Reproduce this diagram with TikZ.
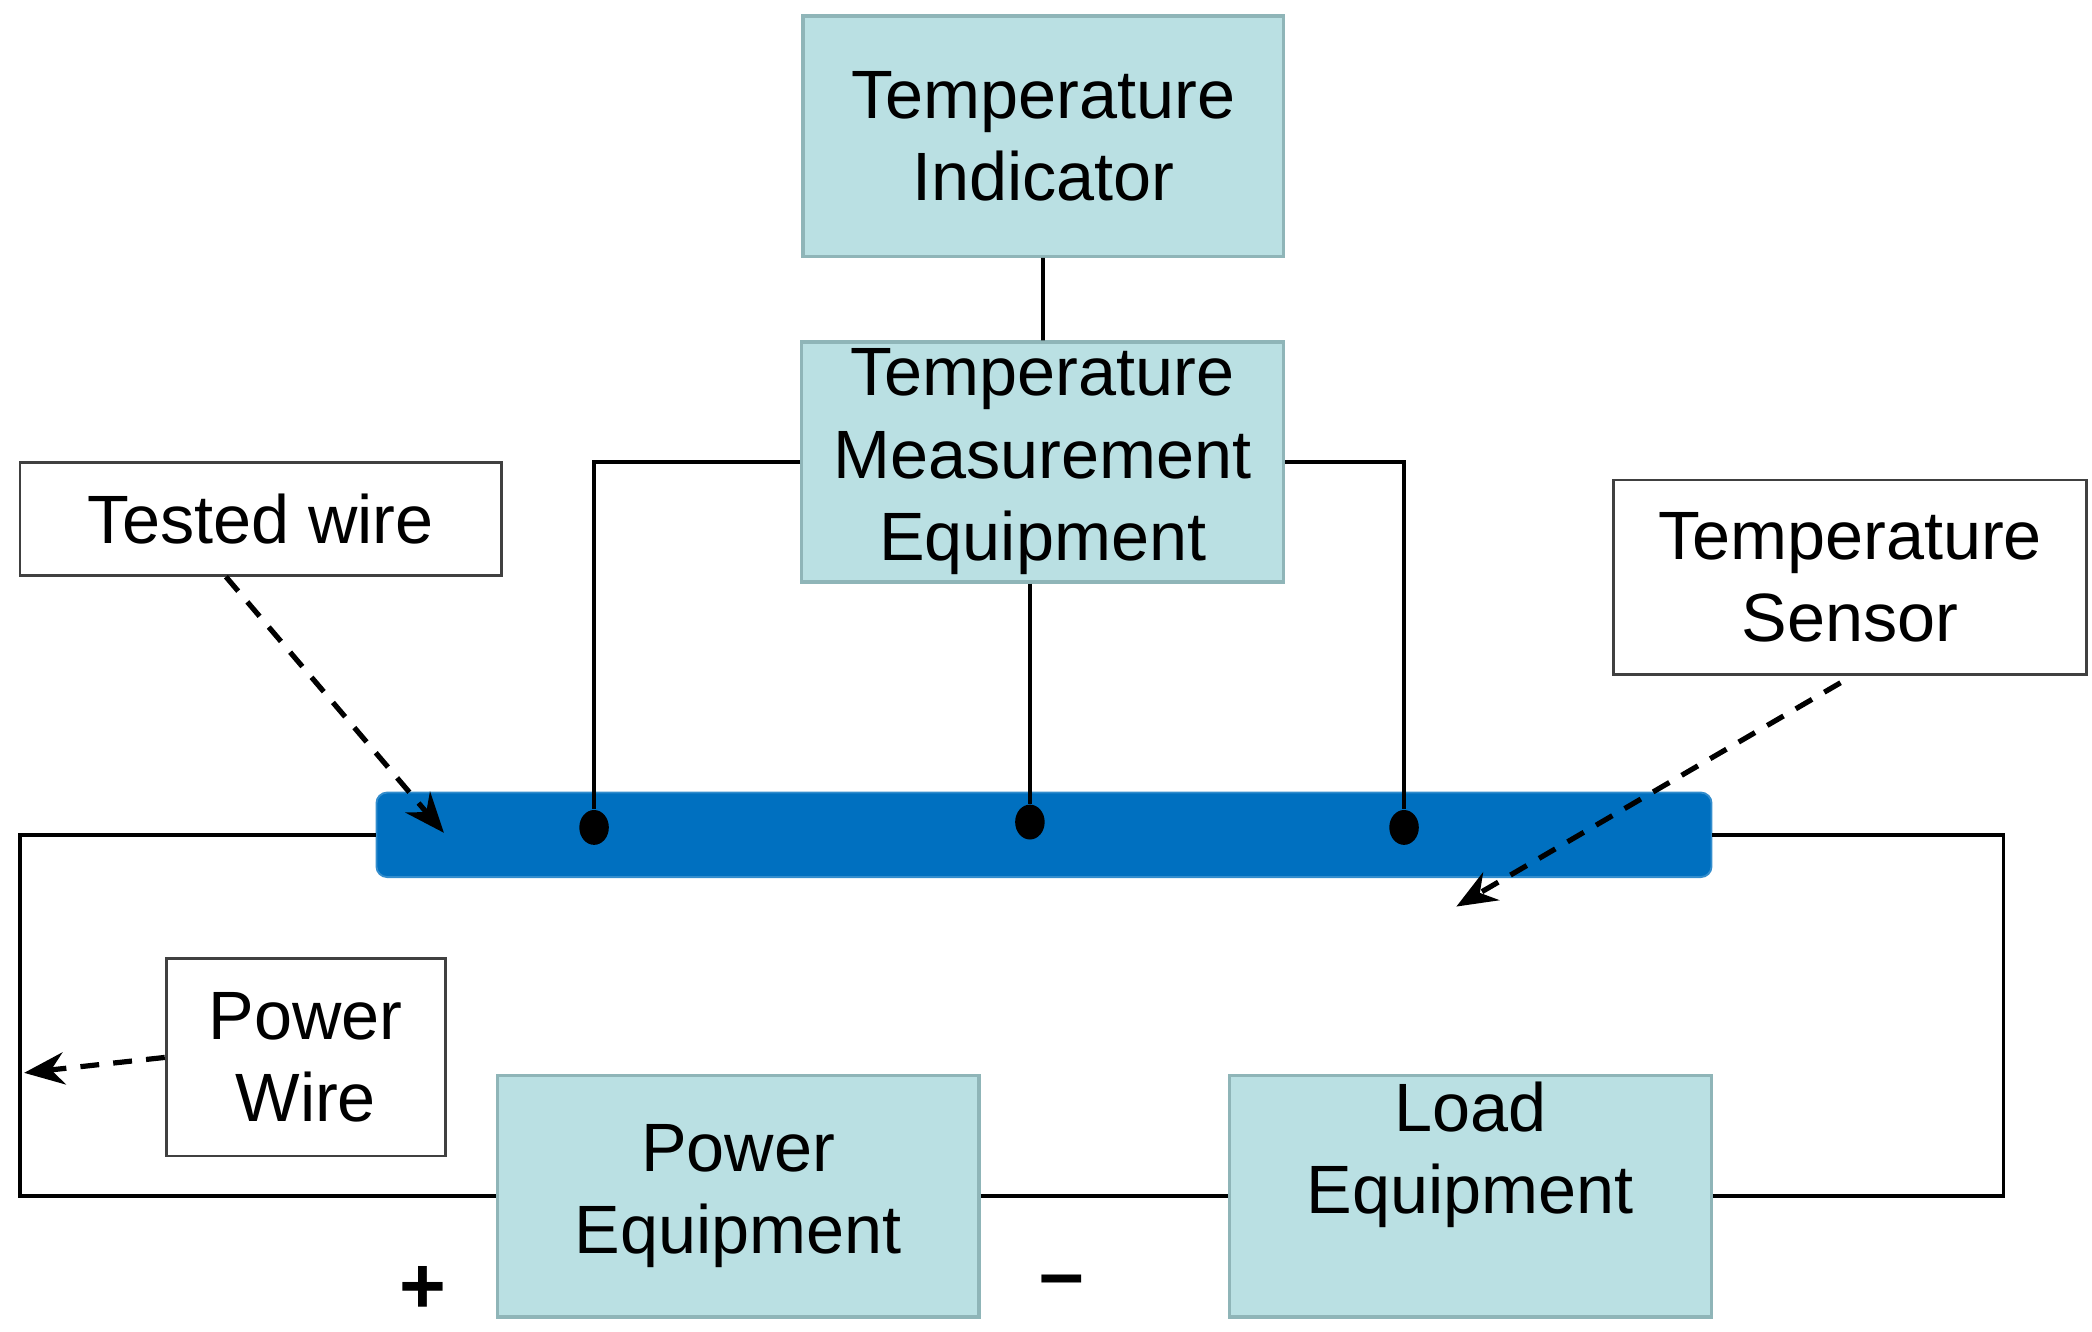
\documentclass[tikz,border=0pt]{standalone}
\usepackage{fontspec}
\setmainfont{Liberation Sans}
\usetikzlibrary{arrows.meta,shapes.geometric}
\definecolor{boxfill}{RGB}{186,224,227}
\definecolor{boxline}{RGB}{143,181,184}
\definecolor{barblue}{RGB}{0,112,192}
\begin{document}
\begin{tikzpicture}[x=0.01cm,y=-0.01cm,
    every node/.style={font=\fontsize{14.5}{17.5}\selectfont,align=center,inner sep=0pt},
    eqbox/.style={draw=boxline,fill=boxfill,line width=0.7pt},
    notebox/.style={draw=black!75,fill=white,line width=0.6pt},
    dot/.style={ellipse,fill=black,minimum width=0.22cm,minimum height=0.26cm},
    wire/.style={line width=0.8pt},
    pointer/.style={line width=1.1pt,dash pattern=on 4pt off 3pt,-{Stealth[length=3mm,width=2.4mm]}}]
  \useasboundingbox (0,0) rectangle (1560,993);
  \node[eqbox,minimum width=3.58cm,minimum height=1.79cm] (ind) at (778,101.5) {Temperature\\Indicator};
  \node[eqbox,minimum width=3.59cm,minimum height=1.79cm] (tme) at (777.5,344.5) {Temperature\\Measurement\\Equipment};
  \node[notebox,minimum width=3.59cm,minimum height=0.84cm] (tw) at (194.5,387) {Tested wire};
  \node[notebox,minimum width=3.53cm,minimum height=1.45cm] (ts) at (1379.5,430.5) {Temperature\\Sensor};
  \node[notebox,minimum width=2.08cm,minimum height=1.47cm] (pw) at (228,788.5) {Power\\Wire};
  \node[eqbox,minimum width=3.59cm,minimum height=1.80cm] (pwr) at (550.5,892) {Power\\Equipment};
  \node[eqbox,minimum width=3.59cm,minimum height=1.80cm,
    label={[align=center,yshift=0.31cm]center:Load\\Equipment}] (load) at (1096.5,892) {};
  \node[fill=barblue,draw=barblue!80!white,rounded corners=0.08cm,
    minimum width=9.95cm,minimum height=0.63cm] (bar) at (778.5,622.5) {};
  \node[dot] (d1) at (443,617) {};
  \node[dot] (d2) at (768,613) {};
  \node[dot] (d3) at (1047,617) {};
  \node[font=\fontsize{17}{17}\selectfont\bfseries] (plus) at (315,962) {+};
  \node[font=\fontsize{17}{17}\selectfont\bfseries] (minus) at (792,960) {--};
  \coordinate (lcorner) at (15,892);
  \coordinate (rcorner) at (1494,892);
  \coordinate (twtip) at (331,621);
  \coordinate (tstip) at (1086,676);
  \coordinate (pwtip) at (18,800);
  \begin{scope}[wire]
    \draw (ind) -- (tme);
    \draw (tme.west) -| (d1);
    \draw (tme.east) -| (d3);
    \draw (d2 |- tme.south) -- (d2);
    \draw (bar.west) -| (lcorner) -- (pwr.west);
    \draw (pwr.east) -- (load.west);
    \draw (load.east) -- (rcorner) |- (bar.east);
  \end{scope}
  \begin{scope}[pointer]
    \draw ([xshift=-0.26cm]tw.south) -- (twtip);
    \draw ([xshift=-0.07cm,yshift=-0.05cm]ts.south) -- (tstip);
    \draw (pw.west) -- (pwtip);
  \end{scope}
\end{tikzpicture}
\end{document}
